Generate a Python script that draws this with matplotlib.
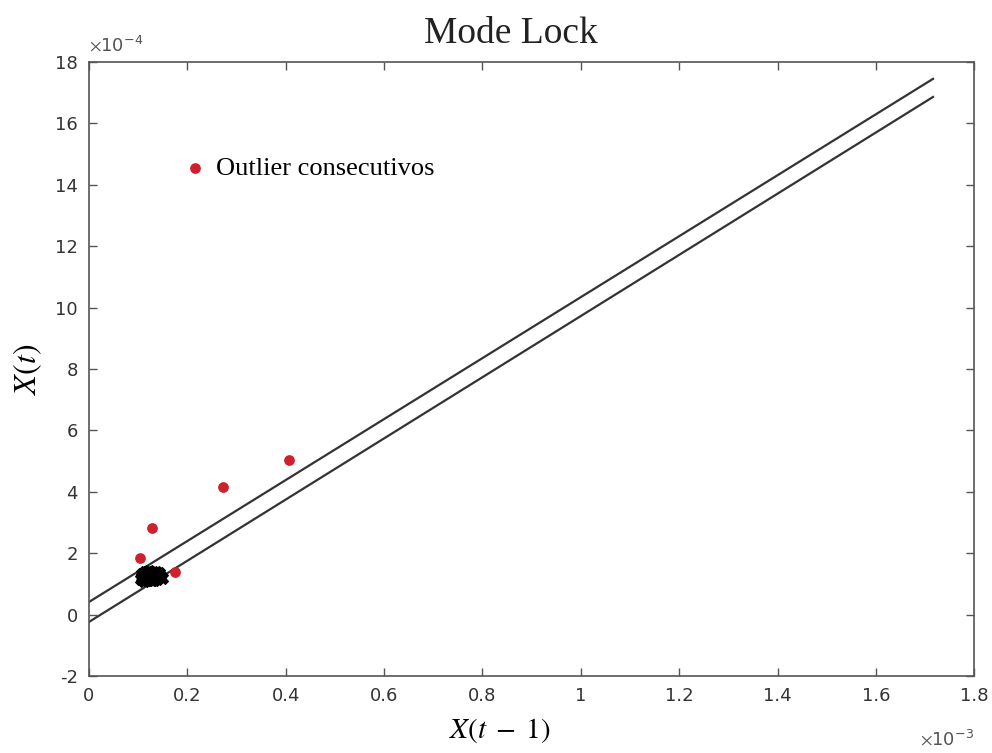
import matplotlib.pyplot as plt
import numpy as np

# outliers (red), in real units
out_x = [0.104e-3, 0.128e-3, 0.175e-3, 0.273e-3, 0.407e-3]
out_y = [1.84e-4, 2.82e-4, 1.39e-4, 4.16e-4, 5.04e-4]

# normal points (black cluster)
pts_x = [0.105, 0.108, 0.110, 0.112, 0.114, 0.116, 0.118, 0.120, 0.122, 0.124,
         0.126, 0.128, 0.130, 0.132, 0.134, 0.136, 0.138, 0.140, 0.142, 0.145,
         0.107, 0.113, 0.119, 0.125, 0.131, 0.137, 0.143, 0.111, 0.123, 0.135,
         0.117, 0.129, 0.141, 0.109, 0.121, 0.133, 0.115, 0.127, 0.139, 0.148]
pts_y = [1.15, 1.22, 1.30, 1.18, 1.26, 1.34, 1.12, 1.20, 1.28, 1.36,
         1.14, 1.24, 1.32, 1.18, 1.26, 1.38, 1.16, 1.22, 1.30, 1.25,
         1.32, 1.38, 1.24, 1.17, 1.40, 1.20, 1.35, 1.10, 1.42, 1.28,
         1.40, 1.12, 1.28, 1.26, 1.33, 1.14, 1.21, 1.37, 1.34, 1.20]
pts_x = [v * 1e-3 for v in pts_x]
pts_y = [v * 1e-4 for v in pts_y]

# threshold lines: endpoints
line_x = [0.0, 1.716e-3]
upper_y = [0.41e-4, 17.45e-4]
lower_y = [-0.24e-4, 16.86e-4]

plt.rcParams['mathtext.fontset'] = 'stix'

fig = plt.figure(figsize=(9.92, 7.53), dpi=100)
ax = fig.add_axes([0.0897, 0.1023, 0.8925, 0.8154])

ax.plot(line_x, upper_y, color='#333333', lw=1.6)
ax.plot(line_x, lower_y, color='#333333', lw=1.6)
ax.scatter(pts_x, pts_y, marker='X', s=70, color='black', zorder=3)
ax.scatter(out_x, out_y, s=45, color='#d0202e', zorder=4,
           label='Outlier consecutivos')

ax.set_xlim(0, 1.8e-3)
ax.set_ylim(-2e-4, 18e-4)
xt = np.arange(0, 1.81, 0.2)
yt = np.arange(-2, 19, 2)
ax.set_xticks(xt * 1e-3)
ax.set_xticklabels(['0' if v == 0 else ('1' if abs(v - 1) < 1e-9 else f'{v:g}') for v in xt])
ax.set_yticks(yt * 1e-4)
ax.set_yticklabels([f'{v:g}' for v in yt])
ax.tick_params(direction='in', top=True, right=True, length=6, width=1,
               labelsize=13, colors='#555555', labelcolor='#333333', pad=8)
for s in ax.spines.values():
    s.set_color('#555555')
    s.set_linewidth(1.2)

ax.text(0.0, 1.012, r'$\times\mathregular{10^{-4}}$', transform=ax.transAxes,
        fontsize=13, color='#555555', ha='left', va='bottom')
ax.text(1.0, -0.085, r'$\times\mathregular{10^{-3}}$', transform=ax.transAxes,
        fontsize=13, color='#555555', ha='right', va='top')

ax.set_title('Mode Lock', fontsize=27, family='Liberation Serif', pad=14,
             x=0.477, color='#222222')
ax.set_xlabel(r'$X(t\;-\;1)$', fontsize=21)
ax.xaxis.set_label_coords(0.464, -0.066)
ax.set_ylabel(r'$X(t)$', fontsize=23, labelpad=8)

ax.legend(loc='upper left', bbox_to_anchor=(0.078, 0.885), frameon=False,
          prop={'family': 'Liberation Serif', 'size': 19}, handlelength=1.0,
          handletextpad=0.3, markerscale=1.0)

fig.savefig('out.png')
